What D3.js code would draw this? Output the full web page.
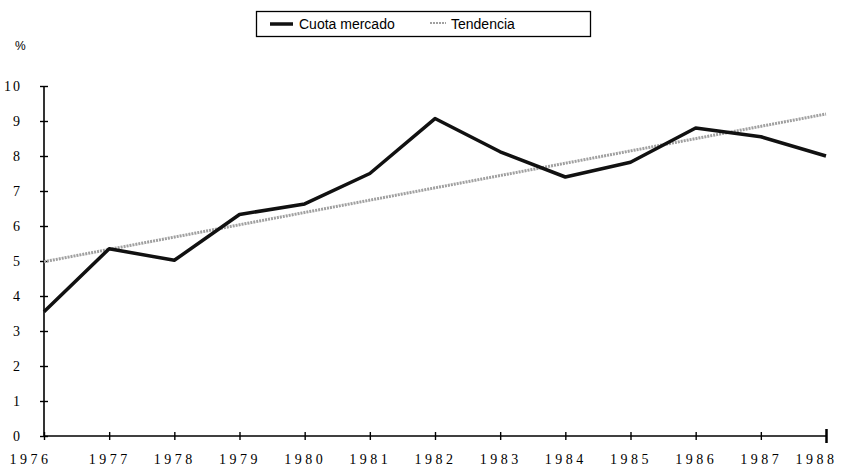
<!DOCTYPE html>
<html>
<head>
<meta charset="utf-8">
<script src="https://cdn.jsdelivr.net/npm/d3@7"></script>
<style>
  body { margin: 0; background: #fff; }
</style>
</head>
<body>
<div id="chart"></div>
<script>
const years = [1976, 1977, 1978, 1979, 1980, 1981, 1982, 1983, 1984, 1985, 1986, 1987, 1988];
const cuota = [3.55, 5.35, 5.02, 6.33, 6.63, 7.5, 9.07, 8.12, 7.4, 7.82, 8.8, 8.55, 8.0];
const trendYears = [1976, 1988];
const trendValues = [4.98, 9.2];
const yTicks = [0, 1, 2, 3, 4, 5, 6, 7, 8, 9, 10];
const legendLabels = ["Cuota mercado", "Tendencia"];

const width = 844;
const height = 470;
const marginTop = 86;
const marginRight = 18;
const marginBottom = 34;
const marginLeft = 44;

const x = d3.scaleLinear([1976, 1988], [marginLeft, width - marginRight]);
const y = d3.scaleLinear([0, 10], [height - marginBottom, marginTop]);

const svg = d3.create("svg")
  .attr("width", width)
  .attr("height", height);

// y axis
const gy = svg.append("g")
  .attr("transform", `translate(${marginLeft},0)`)
  .call(d3.axisLeft(y).tickValues(yTicks).tickSize(4).tickPadding(18).tickFormat(d3.format("d")));
gy.select(".domain").attr("stroke", "#000").attr("stroke-width", 1.6).attr("d", `M0,${y(10)}V${y(0)}`);
gy.selectAll(".tick line").attr("x1", 4).attr("x2", -4).attr("stroke-width", 1.4);
gy.selectAll(".tick text")
  .attr("font-family", "Liberation Serif")
  .attr("font-size", 14)
  .attr("letter-spacing", "2px")
  .attr("fill", "#000");

// x axis
const gx = svg.append("g")
  .attr("transform", `translate(0,${height - marginBottom})`)
  .call(d3.axisBottom(x).tickValues(years).tickSize(4).tickPadding(14).tickFormat(d3.format("d")));
gx.select(".domain").attr("stroke", "#000").attr("stroke-width", 1.6).attr("d", `M${x(1976)},0H${x(1988)}`);
gx.selectAll(".tick line").attr("y1", -4).attr("y2", 4).attr("stroke-width", 1.4);
gx.selectAll(".tick").filter(d => d === 1988).select("line").attr("y1", -7).attr("y2", 7).attr("stroke-width", 2.5);
gx.selectAll(".tick text")
  .attr("font-family", "Liberation Serif")
  .attr("font-size", 14)
  .attr("letter-spacing", "3.5px")
  .attr("fill", "#000")
  .attr("dx", d => d === 1976 ? -14 : d === 1988 ? -10 : 0);

svg.append("text")
  .attr("x", 15)
  .attr("y", 50)
  .attr("font-family", "Liberation Sans")
  .attr("font-size", 12)
  .text("%");

// trend line
svg.append("path")
  .attr("fill", "none")
  .attr("stroke", "#a0a0a0")
  .attr("stroke-width", 3)
  .attr("stroke-dasharray", "2,1")
  .attr("d", d3.line().x((d, i) => x(trendYears[i])).y(d => y(d))(trendValues));

// market share line
svg.append("path")
  .attr("fill", "none")
  .attr("stroke", "#111")
  .attr("stroke-width", 3.5)
  .attr("stroke-linejoin", "round")
  .attr("d", d3.line().x((d, i) => x(years[i])).y(d => y(d))(cuota));

// legend
const legend = svg.append("g");
legend.append("rect")
  .attr("x", 256.5).attr("y", 11.5)
  .attr("width", 334).attr("height", 25)
  .attr("fill", "none").attr("stroke", "#000").attr("stroke-width", 1.3);
legend.append("line")
  .attr("x1", 270).attr("x2", 293).attr("y1", 24).attr("y2", 24)
  .attr("stroke", "#111").attr("stroke-width", 3.5);
legend.append("line")
  .attr("x1", 430).attr("x2", 446).attr("y1", 23).attr("y2", 23)
  .attr("stroke", "#a0a0a0").attr("stroke-width", 2).attr("stroke-dasharray", "2,1");
legend.selectAll("text.lab")
  .data(legendLabels)
  .join("text")
  .attr("class", "lab")
  .attr("x", (d, i) => i === 0 ? 299 : 451)
  .attr("y", 29)
  .attr("font-family", "Liberation Sans")
  .attr("font-size", 14)
  .text(d => d);

document.getElementById("chart").append(svg.node());
</script>
</body>
</html>
